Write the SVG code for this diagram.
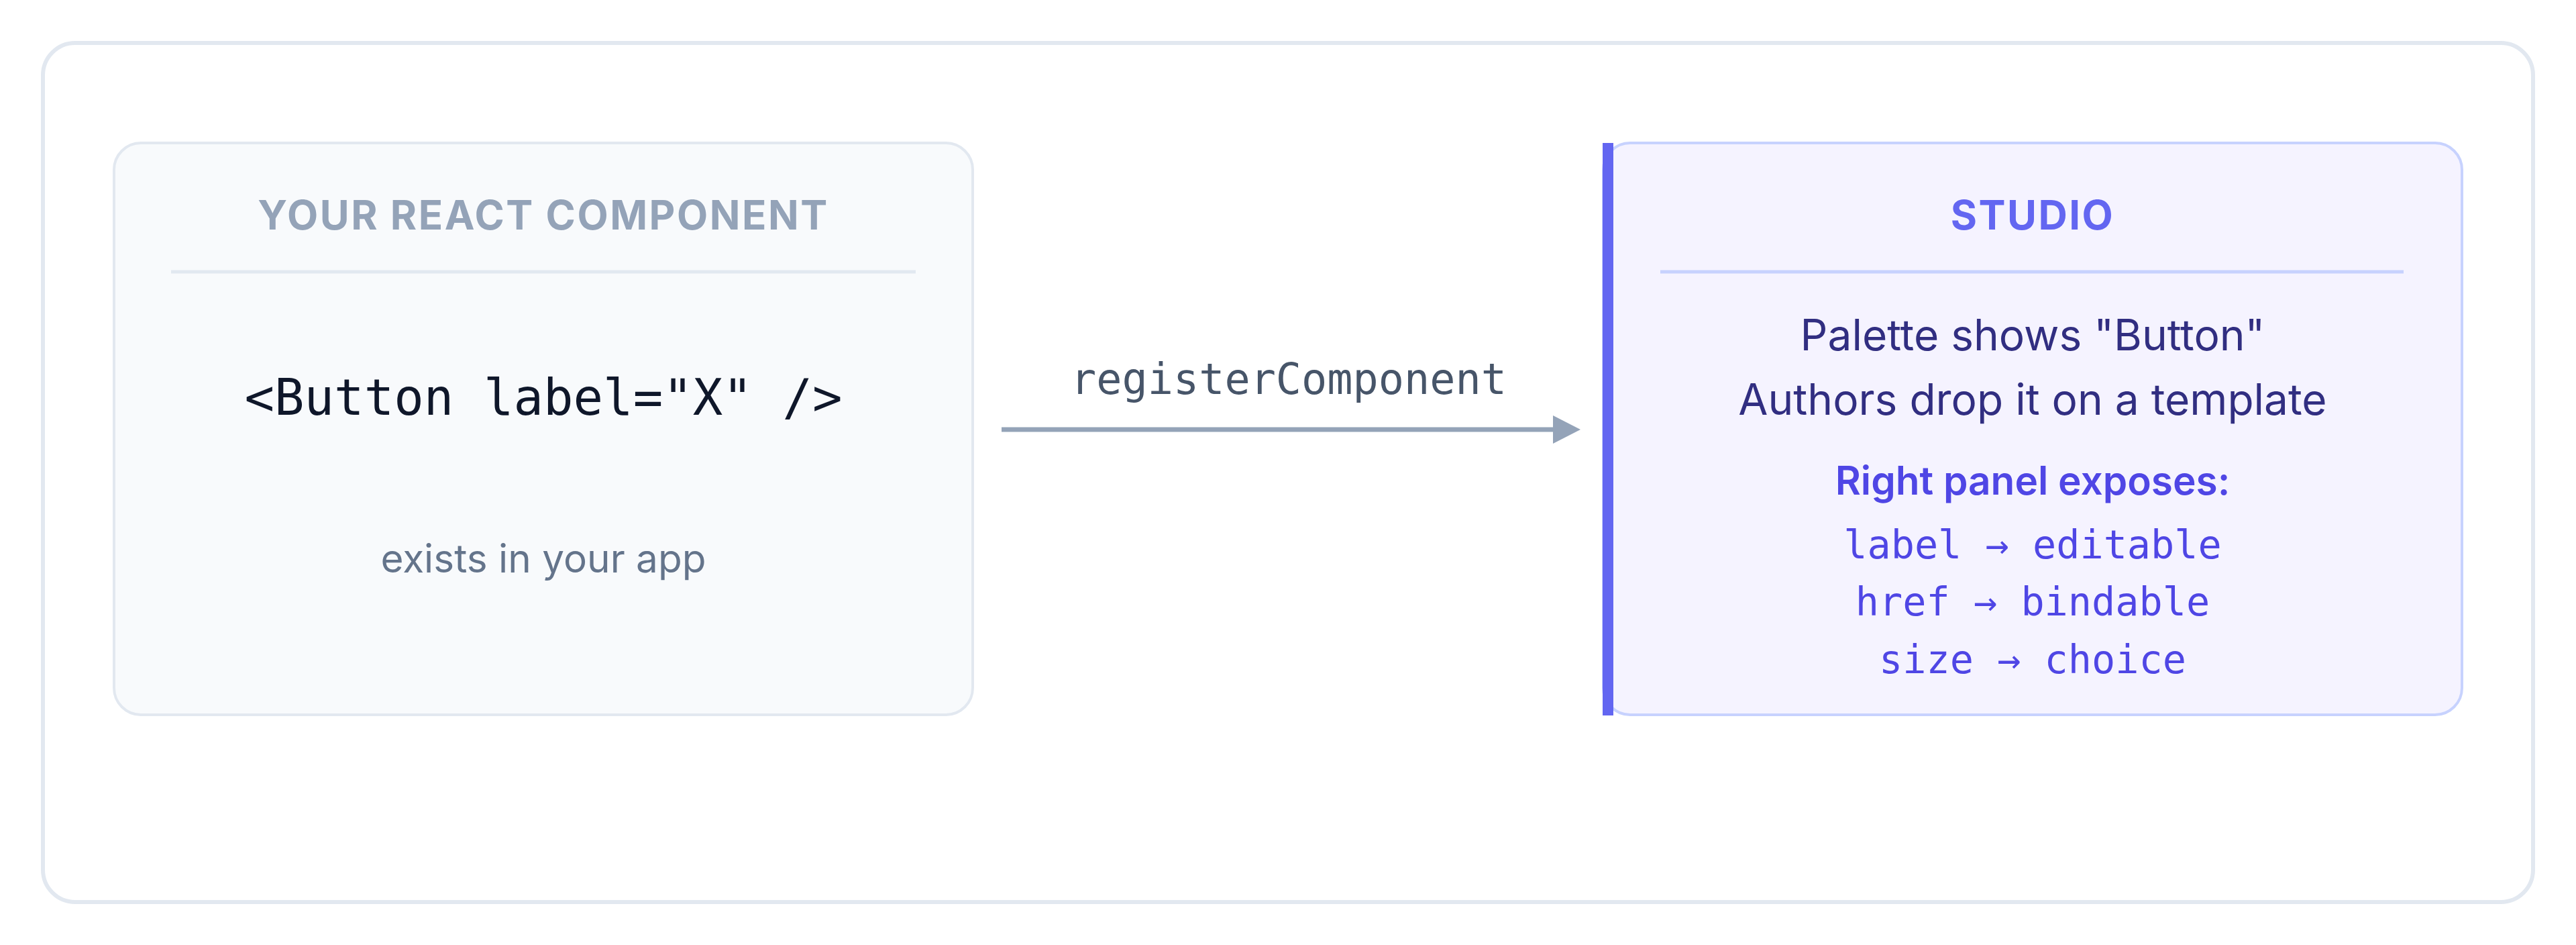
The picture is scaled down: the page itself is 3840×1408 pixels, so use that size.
<svg xmlns="http://www.w3.org/2000/svg" width="3840" height="1408" viewBox="0 0 3840 1408">
  <defs>
    <style>
      .sans { font-family: Inter, "Noto Sans", "Liberation Sans", sans-serif; }
      .mono { font-family: "DejaVu Sans Mono", "Liberation Mono", monospace; }
      .title { font-size: 60px; font-weight: 700; letter-spacing: 2.5px; text-anchor: middle; }
      .body { font-size: 64px; text-anchor: middle; }
      .code { text-anchor: middle; }
    </style>
    <marker id="arrow" viewBox="0 0 41 42" refX="0" refY="21" markerWidth="41" markerHeight="42" markerUnits="userSpaceOnUse" orient="auto">
      <path d="M0,0 L41,21 L0,42 Z" fill="#94a3b8"/>
    </marker>
  </defs>
  <rect x="0" y="0" width="3840" height="1408" fill="#ffffff"/>
  <rect id="frame" x="64" y="64" width="3712" height="1280" rx="48" fill="#ffffff" stroke="#e2e8f0" stroke-width="6"/>

  <g id="node-react">
    <rect x="170" y="213" width="1280" height="852" rx="40" fill="#f8fafc" stroke="#e2e8f0" stroke-width="4"/>
    <text class="sans title" x="810" y="342" fill="#94a3b8">YOUR REACT COMPONENT</text>
    <line x1="255" y1="405" x2="1365" y2="405" stroke="#e2e8f0" stroke-width="5"/>
    <text class="mono code" x="810" y="618" font-size="74" fill="#0f172a">&lt;Button label="X" /&gt;</text>
    <text class="sans" x="810" y="853" font-size="58.5" text-anchor="middle" fill="#64748b">exists in your app</text>
  </g>

  <g id="connectors">
    <line x1="1493" y1="640" x2="2315" y2="640" stroke="#94a3b8" stroke-width="7" marker-end="url(#arrow)"/>
    <text class="mono code" x="1921" y="587" font-size="63.5" fill="#475569">registerComponent</text>
  </g>

  <g id="node-studio">
    <rect x="2390" y="213" width="1280" height="852" rx="40" fill="#f5f3ff" stroke="#c7d2fe" stroke-width="4"/>
    <rect x="2389" y="213" width="16" height="853" fill="#6366f1"/>
    <text class="sans title" x="3030" y="342" fill="#6366f1">STUDIO</text>
    <line x1="2475" y1="405" x2="3583" y2="405" stroke="#c7d2fe" stroke-width="5"/>
    <text class="sans body" x="3030" y="522" fill="#312e81">Palette shows "Button"</text>
    <text class="sans body" x="3030" y="618" fill="#312e81">Authors drop it on a template</text>
    <text class="sans" x="3030" y="737" font-size="58.5" font-weight="600" text-anchor="middle" fill="#4f46e5">Right panel exposes:</text>
    <text class="mono code" x="3030" y="832" font-size="58.5" fill="#4f46e5">label → editable</text>
    <text class="mono code" x="3030" y="917" font-size="58.5" fill="#4f46e5">href → bindable</text>
    <text class="mono code" x="3030" y="1003" font-size="58.5" fill="#4f46e5">size → choice</text>
  </g>
</svg>
